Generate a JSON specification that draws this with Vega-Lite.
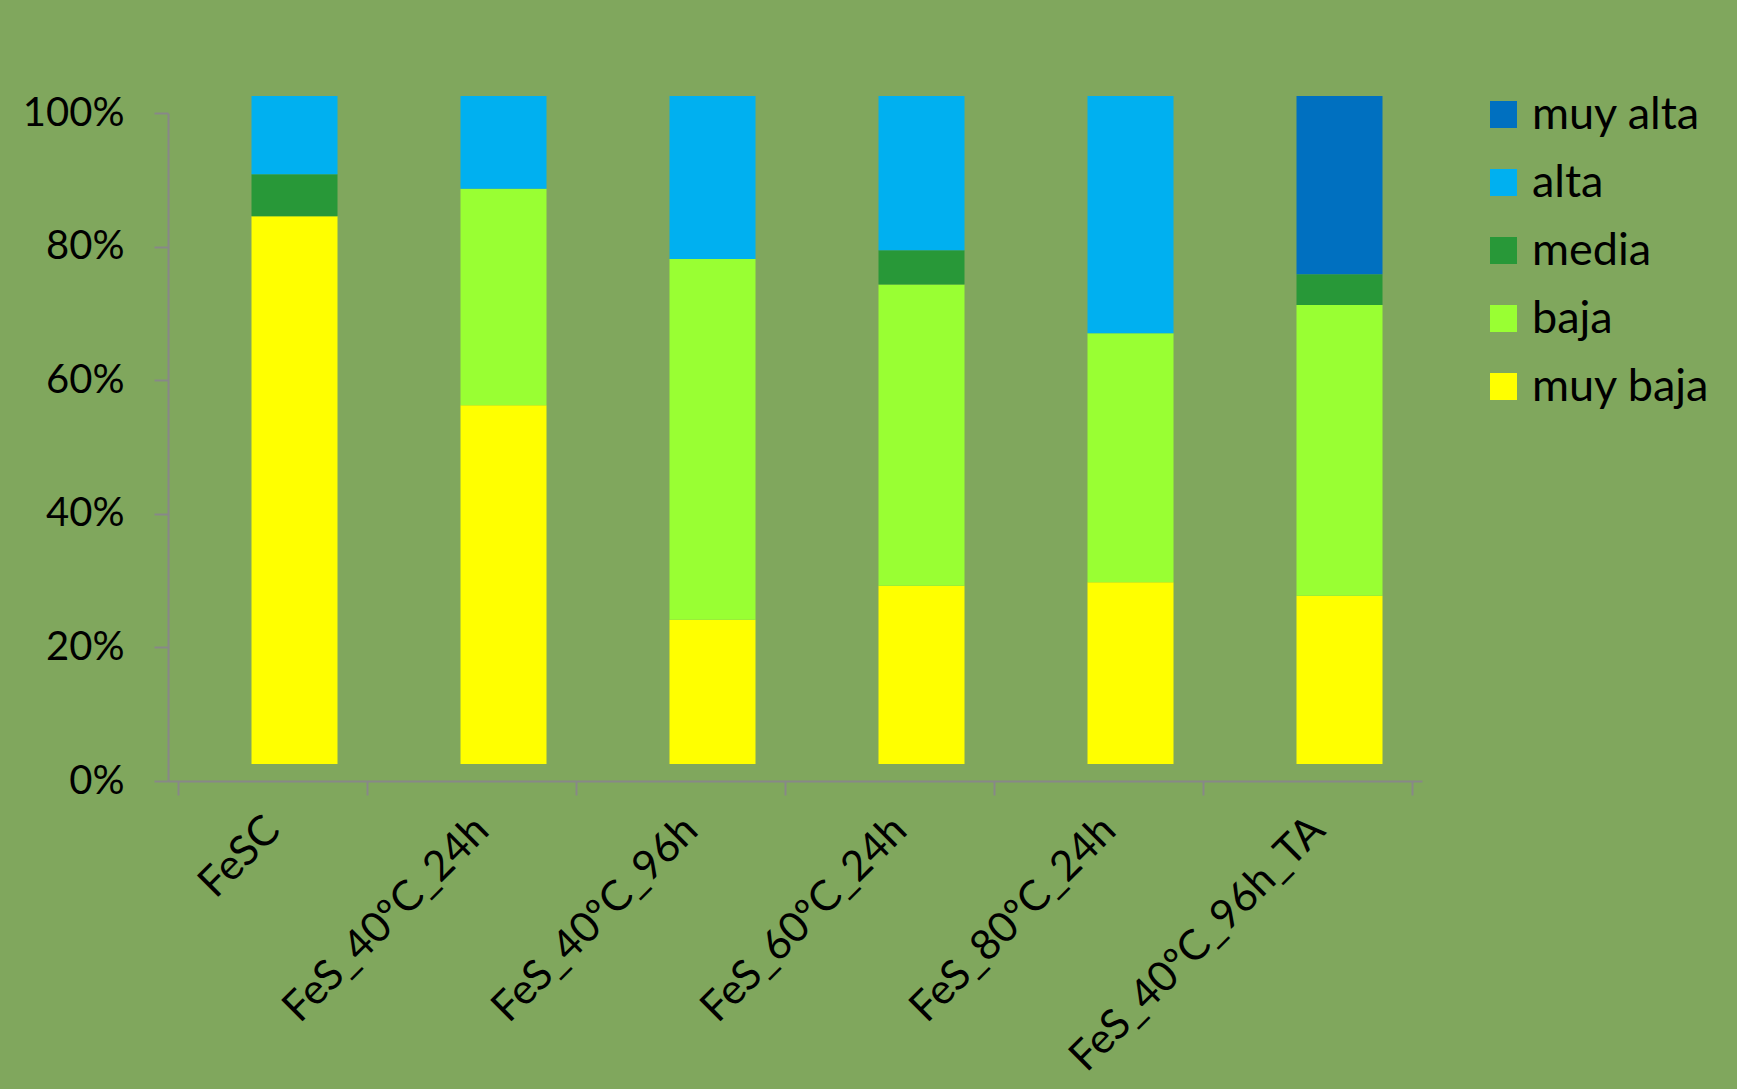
{
  "$schema": "https://vega.github.io/schema/vega-lite/v6.json",
  "autosize": {"type": "none"},
  "width": 1254,
  "height": 668,
  "padding": {"left": 168, "top": 113, "right": 315, "bottom": 308},
  "background": "#80A75D",
  "config": {
    "view": {"stroke": null},
    "font": "Lato",
    "axis": {"labelFont": "Lato", "labelColor": "#000000", "domainColor": "#888888", "tickColor": "#888888", "domainWidth": 2, "tickWidth": 2, "grid": false}
  },
  "data": {
    "values": [
      {"muestra": "FeSC", "nivel": "muy baja", "valor": 82.0},
      {"muestra": "FeSC", "nivel": "media", "valor": 6.3},
      {"muestra": "FeSC", "nivel": "alta", "valor": 11.7},
      {"muestra": "FeS_40ºC_24h", "nivel": "muy baja", "valor": 53.7},
      {"muestra": "FeS_40ºC_24h", "nivel": "baja", "valor": 32.4},
      {"muestra": "FeS_40ºC_24h", "nivel": "alta", "valor": 13.9},
      {"muestra": "FeS_40ºC_96h", "nivel": "muy baja", "valor": 21.6},
      {"muestra": "FeS_40ºC_96h", "nivel": "baja", "valor": 54.0},
      {"muestra": "FeS_40ºC_96h", "nivel": "alta", "valor": 24.4},
      {"muestra": "FeS_60ºC_24h", "nivel": "muy baja", "valor": 26.7},
      {"muestra": "FeS_60ºC_24h", "nivel": "baja", "valor": 45.1},
      {"muestra": "FeS_60ºC_24h", "nivel": "media", "valor": 5.1},
      {"muestra": "FeS_60ºC_24h", "nivel": "alta", "valor": 23.1},
      {"muestra": "FeS_80ºC_24h", "nivel": "muy baja", "valor": 27.2},
      {"muestra": "FeS_80ºC_24h", "nivel": "baja", "valor": 37.3},
      {"muestra": "FeS_80ºC_24h", "nivel": "alta", "valor": 35.5},
      {"muestra": "FeS_40ºC_96h_TA", "nivel": "muy baja", "valor": 25.2},
      {"muestra": "FeS_40ºC_96h_TA", "nivel": "baja", "valor": 43.5},
      {"muestra": "FeS_40ºC_96h_TA", "nivel": "media", "valor": 4.6},
      {"muestra": "FeS_40ºC_96h_TA", "nivel": "muy alta", "valor": 26.7}
    ]
  },
  "transform": [
    {"calculate": "indexof(['muy baja','baja','media','alta','muy alta'], datum.nivel)", "as": "orden"}
  ],
  "mark": {"type": "bar", "width": 86, "xOffset": 22, "yOffset": -17},
  "encoding": {
    "x": {
      "field": "muestra",
      "type": "nominal",
      "sort": ["FeSC", "FeS_40ºC_24h", "FeS_40ºC_96h", "FeS_60ºC_24h", "FeS_80ºC_24h", "FeS_40ºC_96h_TA"],
      "title": null,
      "axis": {"labelAngle": -45, "labelFontSize": 42, "labelLimit": 0, "labelPadding": 28, "tickSize": 14, "tickBand": "extent", "labelAlign": "right", "labelBaseline": "middle"}
    },
    "y": {
      "field": "valor",
      "type": "quantitative",
      "stack": "normalize",
      "title": null,
      "scale": {"domain": [0, 1]},
      "axis": {"format": ".0%", "values": [0, 0.2, 0.4, 0.6, 0.8, 1], "labelFontSize": 40, "tickSize": 14, "labelPadding": 30}
    },
    "color": {
      "field": "nivel",
      "type": "nominal",
      "title": null,
      "scale": {
        "domain": ["muy alta", "alta", "media", "baja", "muy baja"],
        "range": ["#0070C0", "#00B0F0", "#289838", "#99FF33", "#FFFF00"]
      },
      "legend": {
        "orient": "none",
        "legendX": 1313,
        "legendY": -21,
        "symbolType": "square",
        "symbolSize": 729,
        "symbolStrokeWidth": 0,
        "labelFontSize": 45,
        "labelLimit": 0,
        "labelColor": "#000000",
        "rowPadding": 22,
        "labelOffset": 6
      }
    },
    "order": {"field": "orden", "type": "quantitative"}
  }
}
